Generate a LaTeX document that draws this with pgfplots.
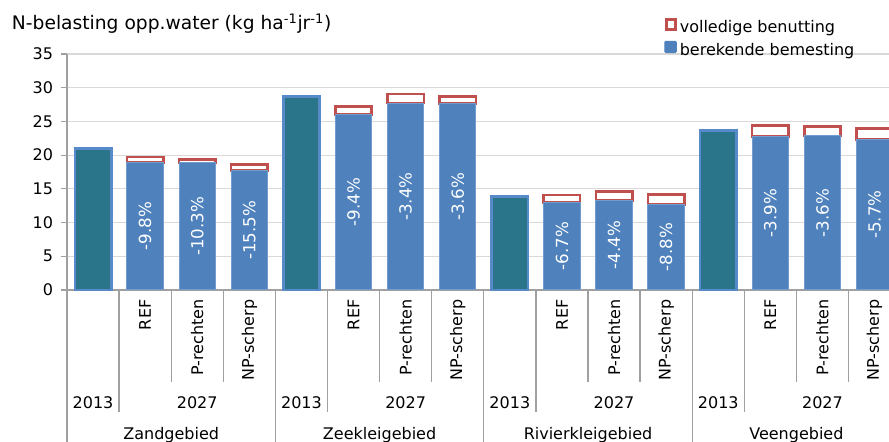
\documentclass[border=0pt]{standalone}
\usepackage{fontspec}
\setmainfont{DejaVu Sans}
\usepackage{pgfplots}
\pgfplotsset{compat=1.18}
\definecolor{tealbar}{RGB}{42,117,137}
\definecolor{tealedge}{RGB}{86,138,200}
\definecolor{barblue}{RGB}{79,129,189}
\definecolor{barblueedge}{RGB}{115,156,206}
\definecolor{volred}{RGB}{192,80,77}
\definecolor{gridgray}{RGB}{217,217,217}
\definecolor{axgray}{RGB}{160,160,160}
\pgfplotsset{
  base/.style={scale only axis, width=625.2pt, height=177pt,
    at={(50.25pt,114pt)}, anchor=south west,
    xmin=-0.5, xmax=15.5, ymin=0, ymax=35, clip=false},
}
\begin{document}
\begin{tikzpicture}[font=\fontsize{12pt}{14.4pt}\selectfont]
\path[use as bounding box] (0,0) rectangle (666.75pt,331.5pt);
\clip (0,0) rectangle (666.75pt,331.5pt);
% axis A: grid, axes, 2013 bars
\begin{axis}[base,
  axis x line*=bottom, axis y line*=left,
  axis line style={axgray, line width=1.1pt},
  xtick=\empty,
  ytick={0,5,...,35},
  ymajorgrids, grid style={gridgray, line width=0.8pt},
  tick align=outside, major tick length=4.5pt,
  ytick style={axgray, line width=0.8pt},
  yticklabel style={anchor=east, inner sep=0pt, xshift=-5.75pt},
  /pgf/number format/assume math mode=true,
]
\addplot[ybar, bar shift=0pt, bar width=27.2pt, fill=tealbar, draw=tealedge, line width=2pt]
  coordinates {(0,21.0) (4,28.7) (8,13.9) (12,23.7)};
\end{axis}
% axis B: stacked 2027 bars + legend
\begin{axis}[base, axis lines=none, xtick=\empty, ytick=\empty,
  ybar stacked, bar width=27.3pt,
  reverse legend, legend cell align=left,
  legend style={draw=none, fill=none, at={(0.7162,1.1525)}, anchor=north west,
    inner sep=0pt, row sep=3pt, column sep=2.25pt,
    nodes={inner sep=0pt, text height=9pt, text depth=3pt},
    font=\fontsize{12pt}{14.4pt}\selectfont},
]
\addplot[fill=barblue, draw=barblueedge, line width=0.75pt,
  legend image code/.code={\fill[barblue, rounded corners=0.8pt] (0pt,-0.8pt) rectangle (8.6pt,7.6pt);}]
  coordinates {(1,18.94) (2,18.84) (3,17.75)
               (5,26.00) (6,27.72) (7,27.67)
               (9,12.97) (10,13.29) (11,12.68)
               (13,22.78) (14,22.85) (15,22.35)};
\addplot[fill=white, draw=volred, line width=1.9pt,
  legend image code/.code={\draw[volred, line width=2.2pt, fill=white] (1.1pt,-0.4pt) rectangle (7.9pt,6.8pt);}]
  coordinates {(1,0.75) (2,0.50) (3,0.85)
               (5,1.25) (6,1.35) (7,1.05)
               (9,1.12) (10,1.31) (11,1.52)
               (13,1.60) (14,1.43) (15,1.59)};
\legend{berekende bemesting, volledige benutting}
\end{axis}
% axis C: percentage labels
\begin{axis}[base, axis lines=none, xtick=\empty, ytick=\empty]
\addplot[draw=none, mark=none, nodes near coords, point meta=explicit symbolic,
  every node near coord/.append style={anchor=center, rotate=90, white, inner sep=0pt,
    font=\fontsize{12.5pt}{15pt}\selectfont}]
  coordinates {(1,9.47) [-9.8\%] (2,9.42) [-10.3\%] (3,8.87) [-15.5\%]
               (5,13.00) [-9.4\%] (6,13.86) [-3.4\%] (7,13.83) [-3.6\%]
               (9,6.48) [-6.7\%] (10,6.64) [-4.4\%] (11,6.34) [-8.8\%]
               (13,11.39) [-3.9\%] (14,11.42) [-3.6\%] (15,11.17) [-5.7\%]};
\end{axis}
% title
\node[anchor=base west, inner sep=0pt, font=\fontsize{14pt}{16pt}\selectfont]
  at (8.8pt,309pt) {N-belasting opp.water (kg ha\textsuperscript{-1}jr\textsuperscript{-1})};
% multi-level category labels
\begin{scope}[shift={(50.25pt,114pt)}, x=39.075pt, y=1pt]
\tikzset{sep/.style={draw=axgray, line width=1pt}}
\foreach \g in {0,4,8,12} {
  \draw[sep] (\g,0) -- (\g,-125);
  \draw[sep] (\g+1,0) -- (\g+1,-91.5);
  \draw[sep] (\g+2,0) -- (\g+2,-69);
  \draw[sep] (\g+3,0) -- (\g+3,-69);
  \node[rotate=90, anchor=east, inner sep=0pt] at (\g+1.5,-7) {REF};
  \node[rotate=90, anchor=east, inner sep=0pt] at (\g+2.5,-7) {P-rechten};
  \node[rotate=90, anchor=east, inner sep=0pt] at (\g+3.5,-7) {NP-scherp};
  \node[anchor=base, inner sep=0pt] at (\g+0.5,-88.7) {2013};
  \node[anchor=base, inner sep=0pt] at (\g+2.5,-88.7) {2027};
}
\draw[sep] (16,0) -- (16,-125);
\node[anchor=base, inner sep=0pt] at (2,-112) {Zandgebied};
\node[anchor=base, inner sep=0pt] at (6,-112) {Zeekleigebied};
\node[anchor=base, inner sep=0pt] at (10,-112) {Rivierkleigebied};
\node[anchor=base, inner sep=0pt] at (14,-112) {Veengebied};
\end{scope}
\end{tikzpicture}
\end{document}
